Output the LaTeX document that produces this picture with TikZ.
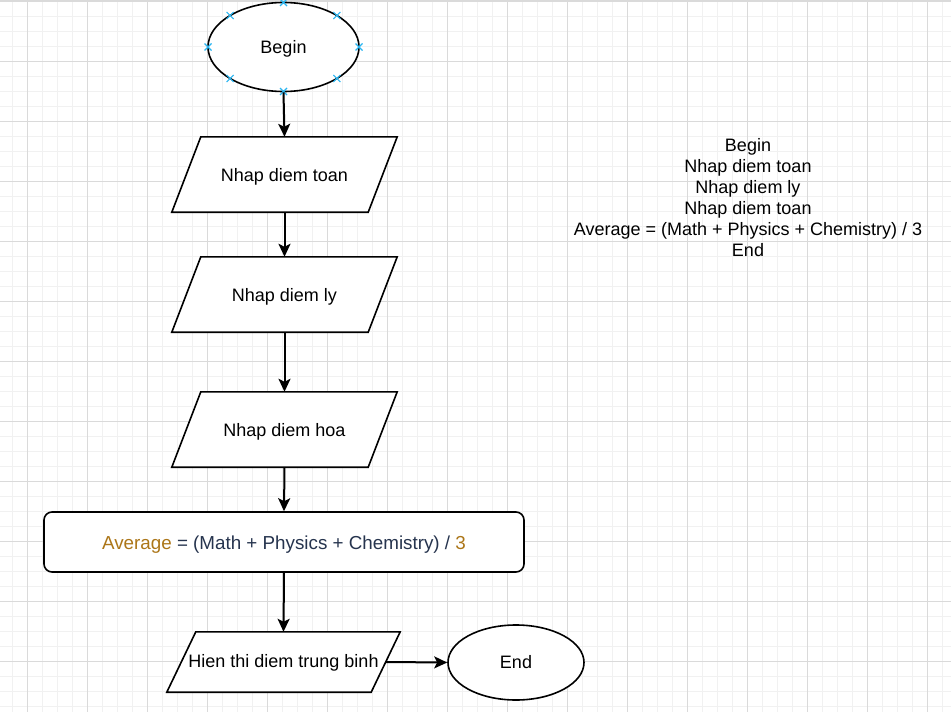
\documentclass[tikz,border=0pt]{standalone}
\usepackage{fontspec}
\setmainfont{Liberation Sans}
\usetikzlibrary{shapes.geometric,arrows.meta,calc}
\definecolor{gridminor}{HTML}{F1F1F1}
\definecolor{gridmajor}{HTML}{DADADA}
\definecolor{markblue}{HTML}{29B6F2}
\definecolor{avgold}{RGB}{172,118,24}
\definecolor{avblue}{RGB}{38,52,78}
\tikzset{
  shapeline/.style={draw=black, line width=1.6pt, fill=white},
  ellbox/.style={shapeline, ellipse, inner sep=0pt},
  parabox/.style={rectangle, inner sep=0pt, draw=none},
  procbox/.style={shapeline, rectangle, rounded corners=8pt, inner sep=0pt},
  lbl/.style={font=\fontsize{18pt}{21pt}\selectfont, text=black},
  conn/.style={line width=2pt, -{Stealth[length=13pt,width=12pt,inset=3pt]}},
  xmark/.style={draw=markblue, line width=1.1pt}
}
\begin{document}
\begin{tikzpicture}[x=1pt,y=-1pt]
\useasboundingbox (0,0) rectangle (951,712);
\fill[white] (0,0) rectangle (951,712);
% grid
\foreach \k in {0,...,63} {
  \pgfmathsetmacro{\xx}{12+15*\k}
  \draw[gridminor, line width=1pt] (\xx,0) -- (\xx,712);
}
\foreach \k in {0,...,47} {
  \pgfmathsetmacro{\yy}{1+15*\k}
  \draw[gridminor, line width=1pt] (0,\yy) -- (951,\yy);
}
\foreach \k in {0,...,15} {
  \pgfmathsetmacro{\xx}{27+60*\k}
  \draw[gridmajor, line width=1pt] (\xx,0) -- (\xx,712);
}
\foreach \k in {0,...,11} {
  \pgfmathsetmacro{\yy}{61+60*\k}
  \draw[gridmajor, line width=1pt] (0,\yy) -- (951,\yy);
}
\fill[gridmajor] (0,0) rectangle (951,2);

% nodes
\node[ellbox, minimum width=151pt, minimum height=89pt] (begin) at (283.5,47) {};
\node[parabox, minimum width=225pt, minimum height=75pt] (p1) at (284.5,174.5) {};
\node[parabox, minimum width=225pt, minimum height=75pt] (p2) at (284.5,294.5) {};
\node[parabox, minimum width=225pt, minimum height=75pt] (p3) at (284.5,429.5) {};
\node[procbox, minimum width=480pt, minimum height=60pt] (avg) at (284,542) {};
\node[parabox, minimum width=233pt, minimum height=60pt] (p4) at (283.5,662) {};
\node[ellbox, minimum width=136pt, minimum height=75pt] (end) at (516,662.5) {};

% parallelograms
\foreach \n/\s in {p1/29,p2/29,p3/29,p4/29} {
  \draw[shapeline, line join=miter] ($(\n.north west)+(\s pt,0)$) -- (\n.north east)
    -- ($(\n.south east)+(-\s pt,0)$) -- (\n.south west) -- cycle;
}
\node[lbl, yshift=-2pt] at (begin) {Begin};
\node[lbl, yshift=0pt] at (end) {End};
\node[lbl, yshift=-2.5pt] at (p1) {Nhap diem toan};
\node[lbl, yshift=-2.5pt] at (p2) {Nhap diem ly};
\node[lbl, yshift=-2.5pt] at (p3) {Nhap diem hoa};
\node[lbl, yshift=-1pt] at (p4) {Hien thi diem trung binh};
\node[font=\fontsize{18.8pt}{22pt}\selectfont, yshift=-2.5pt] at (avg) {\textcolor{avgold}{Average}\ \textcolor{avblue}{= (Math + Physics + Chemistry) /}\ \textcolor{avgold}{3}};

% selection marks on Begin
\foreach \a in {0,45,...,315} {
  \path (begin.center) ++(\a:75.5pt and 44.5pt) coordinate (m);
  \draw[xmark] ($(m)+(-3.5,-3.5)$) -- ($(m)+(3.5,3.5)$) ($(m)+(-3.5,3.5)$) -- ($(m)+(3.5,-3.5)$);
}

% connectors
\draw[conn] (begin.south) -- (p1.north);
\draw[conn] (p1.south) -- (p2.north);
\draw[conn] (p2.south) -- (p3.north);
\draw[conn] (p3.south) -- (avg.north);
\draw[conn] (avg.south) -- (p4.north);
\coordinate (p4r) at ($(p4.east)+(-14.5pt,0)$);
\draw[conn] (p4r) -- (end.west);

% text block
\node[lbl, align=center] (notes) at (748,197.5) {Begin\\Nhap diem toan\\Nhap diem ly\\Nhap diem toan\\Average = (Math + Physics + Chemistry) / 3\\End};
\end{tikzpicture}
\end{document}
